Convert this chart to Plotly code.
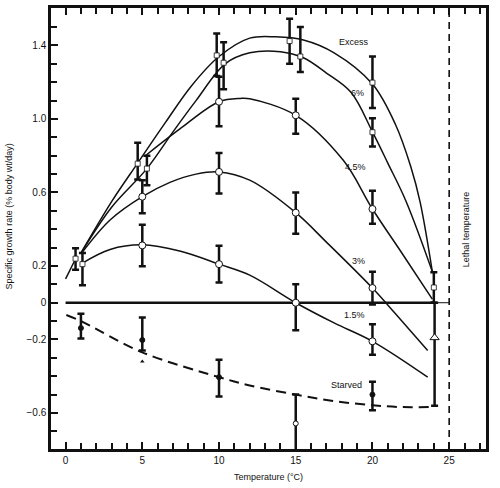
import plotly.graph_objects as go

# ---------------- data ----------------
# fitted curves (knots)
excess_x = [1.0, 3.0, 4.7, 6.5, 8.2, 10.0, 12.0, 13.7, 15.5, 17.5, 20.0, 21.5, 22.5, 23.1, 23.9]
excess_y = [0.27, 0.55, 0.76, 0.98, 1.18, 1.34, 1.44, 1.447, 1.43, 1.36, 1.19, 0.97, 0.74, 0.55, 0.17]

six_x = [1.0, 3.0, 5.3, 7.0, 8.5, 10.4, 12.0, 14.0, 15.5, 17.0, 18.6, 20.0, 21.0, 22.2, 23.9]
six_y = [0.27, 0.52, 0.73, 0.93, 1.10, 1.30, 1.36, 1.366, 1.333, 1.25, 1.145, 0.93, 0.76, 0.55, 0.17]

four5_x = [5.2, 7.45, 10.0, 11.4, 12.0, 15.0, 18.1, 20.0, 22.0, 23.9]
four5_y = [0.80, 0.946, 1.094, 1.112, 1.11, 1.02, 0.775, 0.51, 0.26, 0.02]

three_x = [1.05, 2.9, 5.0, 6.8, 8.5, 10.0, 12.0, 15.0, 17.0, 20.0, 21.5, 23.6]
three_y = [0.27, 0.45, 0.577, 0.655, 0.70, 0.712, 0.667, 0.49, 0.33, 0.08, -0.06, -0.26]

one5_x = [1.1, 2.9, 5.0, 7.5, 10.0, 12.0, 15.0, 17.5, 20.0, 23.6]
one5_y = [0.216, 0.29, 0.315, 0.28, 0.21, 0.15, 0.0, -0.11, -0.21, -0.405]

starved_x = [0.05, 1.0, 5.0, 10.0, 12.0, 15.0, 17.5, 20.0, 22.0, 23.8]
starved_y = [-0.067, -0.10, -0.27, -0.405, -0.45, -0.50, -0.535, -0.558, -0.568, -0.567]

stub_x = [0.0, 0.6]
stub_y = [0.13, 0.23]

# observed means with error bars
excess_px = [0.65, 4.7, 9.85, 14.6, 20.0, 24.0]
excess_py = [0.24, 0.757, 1.346, 1.424, 1.198, 0.083]
excess_ep = [0.057, 0.113, 0.119, 0.122, 0.142, 0.083]
excess_em = [0.06, 0.087, 0.112, 0.124, 0.138, 0.083]

six_px = [1.1, 5.3, 10.3, 15.3, 20.0]
six_py = [0.21, 0.73, 1.306, 1.34, 0.928]
six_ep = [0.06, 0.07, 0.112, 0.16, 0.076]
six_em = [0.115, 0.09, 0.144, 0.084, 0.078]

four5_px = [10.0, 15.0, 20.0]
four5_py = [1.094, 1.02, 0.51]
four5_ep = [0.136, 0.09, 0.10]
four5_em = [0.134, 0.10, 0.08]

three_px = [5.0, 10.0, 15.0, 20.0]
three_py = [0.577, 0.712, 0.49, 0.08]
three_ep = [0.09, 0.103, 0.11, 0.088]
three_em = [0.09, 0.117, 0.115, 0.09]

one5_px = [5.0, 10.0, 15.0, 20.0]
one5_py = [0.312, 0.21, 0.0, -0.21]
one5_ep = [0.112, 0.10, 0.10, 0.093]
one5_em = [0.114, 0.10, 0.15, 0.073]

starved_px = [1.0, 5.0, 10.0, 20.0]
starved_py = [-0.138, -0.203, -0.405, -0.50]
starved_ep = [0.078, 0.123, 0.095, 0.07]
starved_em = [0.057, 0.057, 0.105, 0.085]

starved15_px = [15.0]
starved15_py = [-0.657]
starved15_ep = [0.157]
starved15_em = [0.16]

tri_px = [24.05]
tri_py = [-0.19]
tri_ep = [0.19]
tri_em = [0.37]

small_tri_x = [5.0]
small_tri_y = [-0.32]

lethal_temp = 25
x_ticks = [0, 5, 10, 15, 20, 25]
y_ticks = [-0.6, -0.2, 0, 0.2, 0.6, 1.0, 1.4]
y_ticktext = ["\u22120.6", "\u22120.2", "0", "0.2", "0.6", "1.0", "1.4"]

curve_labels = ["Excess", "6%", "4.5%", "3%", "1.5%", "Starved"]
label_x = [18.8, 19.0, 18.9, 19.1, 18.8, 18.3]
label_y = [1.42, 1.14, 0.74, 0.225, -0.065, -0.445]

# ---------------- figure ----------------
INK = "#111111"
FONT = "Liberation Sans"
fig = go.Figure()

def curve(x, y, dash="solid", width=1.5):
    fig.add_trace(go.Scatter(x=x, y=y, mode="lines",
                             line=dict(color=INK, width=width, shape="spline", smoothing=1.0, dash=dash),
                             hoverinfo="skip", showlegend=False))

for cx, cy in [(excess_x, excess_y), (six_x, six_y), (four5_x, four5_y),
               (three_x, three_y), (one5_x, one5_y), (stub_x, stub_y)]:
    curve(cx, cy)
curve(starved_x, starved_y, dash="10px,6px", width=2)

# zero line and lethal bracket
fig.add_trace(go.Scatter(x=[0, 24], y=[0, 0], mode="lines", line=dict(color=INK, width=2.5),
                         hoverinfo="skip", showlegend=False))
fig.add_trace(go.Scatter(x=[24, lethal_temp], y=[0, 0], mode="lines", line=dict(color=INK, width=1),
                         hoverinfo="skip", showlegend=False))
fig.add_trace(go.Scatter(x=[lethal_temp, lethal_temp], y=[-0.796, 1.604], mode="lines",
                         line=dict(color=INK, width=1.6, dash="7px,5px"),
                         hoverinfo="skip", showlegend=False))

def points(x, y, ep, em, symbol="circle", size=7, fill="white", lw=1):
    fig.add_trace(go.Scatter(
        x=x, y=y, mode="markers",
        marker=dict(symbol=symbol, size=size, color=fill, line=dict(color=INK, width=lw)),
        error_y=dict(type="data", symmetric=False, array=ep, arrayminus=em,
                     color=INK, thickness=2.5, width=3.5),
        hoverinfo="skip", showlegend=False))

points(excess_px, excess_py, excess_ep, excess_em, symbol="square", size=5, lw=0.8)
points(six_px, six_py, six_ep, six_em, symbol="square", size=5, lw=0.8)
points(four5_px, four5_py, four5_ep, four5_em)
points(three_px, three_py, three_ep, three_em)
points(one5_px, one5_py, one5_ep, one5_em)
points(starved_px, starved_py, starved_ep, starved_em, size=5, fill=INK)
points(starved15_px, starved15_py, starved15_ep, starved15_em, size=5)
points(tri_px, tri_py, tri_ep, tri_em, symbol="triangle-up", size=8)
fig.add_trace(go.Scatter(x=small_tri_x, y=small_tri_y, mode="markers",
                         marker=dict(symbol="triangle-up", size=4, color=INK),
                         hoverinfo="skip", showlegend=False))

for t, lx, ly in zip(curve_labels, label_x, label_y):
    fig.add_annotation(x=lx, y=ly, text=t, showarrow=False, xanchor="center", yanchor="middle",
                       font=dict(family=FONT, size=9, color=INK))

fig.add_annotation(xref="paper", yref="paper", x=-0.097, y=0.527, xanchor="center", yanchor="middle",
                   text="Specific growth rate (% body wt/day)", textangle=-90, showarrow=False,
                   font=dict(family=FONT, size=9, color=INK))
fig.add_annotation(xref="paper", yref="paper", x=0.501, y=-0.063, xanchor="center", yanchor="middle",
                   text="Temperature (\u00b0C)", showarrow=False,
                   font=dict(family=FONT, size=9, color=INK))
fig.add_annotation(xref="paper", yref="paper", x=0.954, y=0.498, xanchor="center", yanchor="middle",
                   text="Lethal temperature", textangle=-90, showarrow=False,
                   font=dict(family=FONT, size=9, color=INK))

fig.update_layout(
    width=500, height=488,
    margin=dict(l=51, r=14, t=5, b=39),
    plot_bgcolor="white", paper_bgcolor="white",
    font=dict(family=FONT, size=10, color=INK),
    showlegend=False,
)
fig.update_xaxes(range=[-0.95, 27.4], showgrid=False, zeroline=False,
                 showline=True, linecolor=INK, linewidth=2.5, mirror="ticks",
                 ticks="inside", ticklen=7, tickwidth=1.5, tickcolor=INK,
                 tickvals=x_ticks, ticktext=[str(v) for v in x_ticks],
                 tickfont=dict(family=FONT, size=10, color=INK),
                 minor=dict(dtick=1, tick0=0, ticks="inside", ticklen=6, tickwidth=1.5, tickcolor=INK))
fig.update_yaxes(range=[-0.796, 1.604], showgrid=False, zeroline=False,
                 showline=True, linecolor=INK, linewidth=2.5, mirror=True,
                 ticks="inside", ticklen=7, tickwidth=1.5, tickcolor=INK,
                 tickvals=y_ticks, ticktext=y_ticktext,
                 tickfont=dict(family=FONT, size=10, color=INK),
                 minor=dict(dtick=0.1, tick0=0, ticks="inside", ticklen=6, tickwidth=1.5, tickcolor=INK))

fig.write_html("out.html", config={"displayModeBar": False},
               post_script="document.body.style.margin='0px';document.body.style.overflow='hidden';")
